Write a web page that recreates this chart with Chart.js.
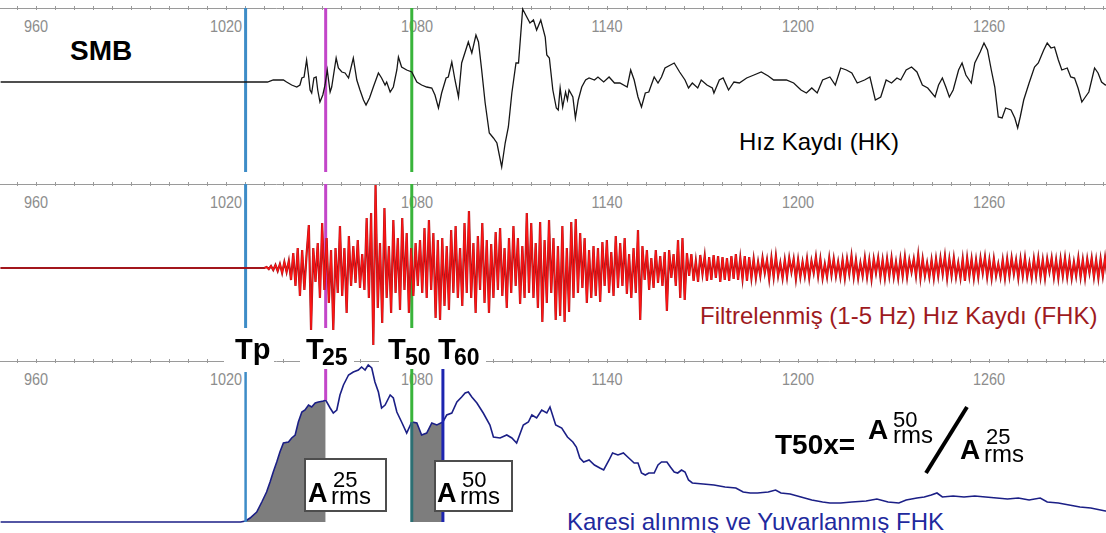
<!DOCTYPE html>
<html lang="tr">
<head>
<meta charset="utf-8">
<title>SMB - T50x</title>
<script src="https://cdn.jsdelivr.net/npm/chart.js@4.4.0/dist/chart.umd.min.js"></script>
<style>
  html, body { margin: 0; padding: 0; background: #fff; overflow: hidden; }
  #wrap { position: relative; width: 1106px; height: 533px; font-family: 'Liberation Sans', Arial, sans-serif; }
  #under, #over { position: absolute; left: 0; top: 0; width: 1106px; height: 533px; }
  #chart { position: absolute; left: 0; top: 0; }
  .txt { position: absolute; white-space: nowrap; line-height: 1; }
  .box { position: absolute; background: #fff; box-sizing: border-box; }
</style>
</head>
<body>
<div id="wrap">
  <div id="under"></div>
  <canvas id="chart" width="1106" height="533"></canvas>
  <div id="over"></div>
</div>
<script>
// time axis (s)
const xMin = 948.8;
const xMax = 1296.9;
const tickValues = [960, 1020, 1080, 1140, 1200, 1260];
const minorStep = 6;

// picks: Tp, T25, T50, T60
const markerNames = ['Tp', 'T25', 'T50', 'T60'];
const markerTimes = [1026.1, 1051.3, 1078.4, 1088.2];

// velocity record (HK)
const hkTime = [
  949, 1033.0, 1034.8, 1038.0, 1039.0, 1040.6, 1042.2, 1043.2, 1043.8, 1044.5,
  1045.3, 1045.9, 1046.4, 1046.9, 1047.6, 1048.3, 1048.8, 1049.5, 1050.4, 1051.1,
  1051.8, 1052.7, 1053.2, 1054.6, 1055.3, 1056.4, 1057.4, 1058.5, 1060.0, 1061.1,
  1062.1, 1063.2, 1064.0, 1065.1, 1066.3, 1067.9, 1068.9, 1070.0, 1070.5, 1071.6,
  1072.6, 1073.7, 1074.2, 1075.2, 1076.8, 1078.4, 1080.0, 1081.5, 1083.1, 1084.7,
  1085.7, 1086.8, 1087.8, 1089.2, 1089.9, 1091.0, 1092.0, 1093.1, 1094.1, 1095.2,
  1096.2, 1097.3, 1098.6, 1099.4, 1100.4, 1101.5, 1102.8, 1104.1, 1105.2, 1106.7,
  1107.8, 1108.8, 1109.9, 1111.2, 1112.0, 1113.3, 1114.6, 1115.6, 1116.7, 1117.7,
  1119.0, 1120.4, 1120.9, 1121.7, 1122.8, 1123.9, 1124.5, 1125.1, 1125.9, 1126.8,
  1127.4, 1127.9, 1129.1, 1129.9, 1130.8, 1131.9, 1133.1, 1134.2, 1135.9, 1137.0,
  1138.8, 1140.5, 1142.2, 1143.9, 1146.2, 1147.3, 1148.4, 1149.6, 1150.7, 1151.9,
  1153.0, 1154.7, 1155.9, 1157.0, 1158.1, 1161.0, 1162.7, 1164.4, 1165.5, 1166.7,
  1168.4, 1169.5, 1171.3, 1173.0, 1173.5, 1175.2, 1176.4, 1178.1, 1179.8, 1181.5,
  1183.8, 1186.1, 1188.4, 1190.6, 1192.3, 1194.1, 1196.3, 1198.6, 1200.9, 1202.6,
  1204.3, 1206.0, 1207.7, 1210.0, 1211.7, 1213.4, 1215.2, 1216.9, 1218.6, 1220.9,
  1222.6, 1224.3, 1226.0, 1227.7, 1229.4, 1231.1, 1232.3, 1234.0, 1235.7, 1237.4,
  1239.1, 1240.8, 1243.1, 1244.2, 1245.4, 1246.5, 1247.6, 1248.8, 1250.5, 1251.6,
  1252.8, 1254.5, 1255.6, 1257.3, 1258.5, 1259.6, 1260.8, 1261.9, 1263.0, 1264.2,
  1265.3, 1267.0, 1268.2, 1269.1, 1269.9, 1271.0, 1272.7, 1274.4, 1275.6, 1277.3,
  1278.4, 1279.6, 1280.7, 1281.9, 1283.0, 1284.7, 1285.8, 1287.0, 1288.1, 1289.3,
  1290.4, 1291.5, 1293.3, 1294.4, 1295.5, 1296.7, 1298
];
const hkValue = [
  0, 0, 2, 2, 0, -3, -5, -3, 4, 5,
  22, 7, -8, -11, 4, 5, -8, -20, -13, -3,
  12, -10, -5, 24, 14, 10, 9, 4, 24, 2,
  -8, -18, -23, -16, -5, 9, 4, -3, 0, -10,
  -5, 12, 25, 15, 12, 10, 0, -3, -5, -6,
  -13, -26, -11, 4, 5, 20, 2, -15, 19, 30,
  40, 29, 47, 40, 12, -21, -51, -56, -61, -85,
  -61, -45, -11, 19, 19, 73, 65, 59, 62, 52,
  62, 45, 27, 24, -8, -26, -28, -6, -25, -10,
  -18, -8, -15, -36, -18, -5, 2, 4, 2, 5,
  0, 5, -1, -1, -5, 12, 2, -15, -25, -11,
  -10, 5, -1, 5, 14, 19, 10, 2, -6, -1,
  -6, 2, -3, -6, -11, 2, 4, -8, 0, -1,
  4, 7, 10, 6, 2, 2, 2, -1, -8, -11,
  -6, -11, 2, 5, -3, 14, 12, 9, -1, 2,
  5, -18, -15, 2, -1, 4, 2, 12, 15, 10,
  -3, -6, -15, -3, 4, -5, -15, -8, 12, 19,
  7, -1, 19, 30, 39, 32, 12, -5, -35, -36,
  -26, -28, -36, -46, -35, -18, -1, 15, 19, 32,
  39, 34, 35, 22, 12, 14, 5, 4, -6, -20,
  -15, -10, 14, 9, 0, -3, -2
];

// filtered (1-5 Hz) velocity (FHK), sampled every fhkStep s from fhkStart
const recordStart = 949;
const fhkStart = 1032;
const fhkStep = 0.7;
const fhkValue = [
  0, 1, -1, 2, -2, 3, -3, 4, -5, 6, -4, 7, -12, 15, -18, 20, -28, 18, -22, 14,
  43, -62, 20, -14, 25, -30, 45, -22, 30, -35, 18, -62, 20, -25, 42, -28, 20, -45, 32, -18,
  22, -15, 28, -20, 14, -22, 50, -30, 55, -77, 83, -40, 25, -55, 60, -30, 22, -45, 48, -25,
  30, -42, 50, -22, 35, -45, 20, -28, 25, -18, 28, -25, 40, -30, 48, -22, 35, -50, 28, -52,
  30, -38, 22, -42, 38, -25, 42, -30, 20, -38, 45, -25, 57, -30, 25, -45, 32, -22, 45, -35,
  28, -45, 24, -30, 36, -22, 40, -28, 20, -40, 30, -25, 42, -18, 30, -36, 22, -30, 55, -25,
  45, -30, 25, -40, 46, -54, 28, -35, 48, -25, 30, -52, 22, -48, 42, -54, 20, -44, 46, -30,
  49, -25, 35, -20, 30, -35, 18, -30, 22, -28, 20, -34, 26, -18, 28, -25, 16, -28, 32, -20,
  25, -18, 30, -26, 14, -30, 20, -25, 38, -52, 22, -12, 18, -22, 10, -20, 18, -15, 12, -18,
  16, -43, 18, -10, 14, -18, 28, -30, 30, -32, 15, -8, 14, -13, 7, -14, 13, -6, 12, -13,
  11, -12, 13, -10, 12, -14, 11, -12, 10, -13, 12, -11, 14, -12, 10, -11, 12, -13, 11, -10,
  9, -10, 6, -8, 10, -5, 8, -11, 10, -9, 12, -8, 5, -10, 8, -9, 10, -4, 9, -11,
  8, -9, 6, -8, 9, -10, 7, -5, 11, -8, 9, -10, 4, -9, 10, -7, 9, -8, 6, -9,
  8, -10, 9, -6, 12, -9, 8, -10, 5, -8, 10, -9, 8, -11, 9, -5, 10, -9, 8, -10,
  9, -8, 10, -9, 6, -10, 9, -8, 11, -9, 8, -4, 9, -8, 13, -10, 9, -8, 5, -9,
  8, -10, 9, -8, 10, -6, 12, -10, 9, -8, 10, -9, 5, -10, 9, -13, 10, -8, 9, -10,
  8, -9, 10, -5, 11, -9, 8, -10, 9, -8, 4, -9, 8, -10, 9, -8, 10, -6, 8, -10,
  9, -8, 10, -9, 5, -10, 9, -8, 10, -9, 8, -10, 9, -4, 10, -9, 8, -10, 9, -8,
  10, -9, 8, -10, 6, -8, 10, -9, 8, -10, 9, -5, 10, -9, 8, -10, 9, -8, 10, -9
];

// squared and smoothed FHK (envelope)
const envTime = [
  949, 1024.5, 1026.1, 1027.5, 1029.6, 1031.2, 1032.7, 1033.8, 1034.8, 1035.9,
  1036.9, 1038.0, 1039.6, 1040.6, 1041.7, 1042.7, 1043.8, 1044.8, 1045.9, 1046.9,
  1048.0, 1049.0, 1050.6, 1051.3, 1052.7, 1053.7, 1054.8, 1055.8, 1056.9, 1058.5,
  1060.0, 1061.6, 1062.6, 1063.7, 1064.7, 1065.8, 1066.8, 1067.9, 1068.9, 1070.0,
  1071.6, 1072.6, 1073.7, 1075.2, 1076.8, 1078.4, 1080.0, 1081.5, 1083.1, 1084.7,
  1086.3, 1088.2, 1089.4, 1091.0, 1092.6, 1094.1, 1095.2, 1096.2, 1097.3, 1098.9,
  1100.9, 1103.0, 1104.1, 1106.2, 1108.3, 1109.9, 1111.4, 1113.5, 1115.1, 1116.2,
  1117.7, 1119.3, 1120.9, 1121.9, 1123.7, 1125.6, 1127.4, 1129.1, 1130.2, 1131.3,
  1132.5, 1134.2, 1135.9, 1137.6, 1138.8, 1140.5, 1141.6, 1143.3, 1145.0, 1146.7,
  1148.4, 1149.6, 1150.7, 1151.9, 1153.0, 1154.7, 1155.9, 1157.0, 1158.7, 1159.8,
  1161.0, 1162.1, 1163.3, 1164.4, 1165.5, 1166.7, 1170.1, 1173.5, 1177.0, 1180.4,
  1182.7, 1184.9, 1187.2, 1190.6, 1192.9, 1194.6, 1197.5, 1200.9, 1204.3, 1207.7,
  1210.0, 1213.4, 1216.9, 1221.4, 1224.8, 1228.3, 1231.7, 1234.0, 1237.4, 1239.7,
  1241.9, 1243.7, 1245.4, 1248.8, 1252.2, 1255.6, 1259.0, 1262.5, 1265.9, 1269.3,
  1272.7, 1276.2, 1278.4, 1281.9, 1285.3, 1288.7, 1292.1, 1296.7, 1298
];
const envValue = [
  0, 0, 1, 4, 10, 20, 30, 40, 50, 60,
  70, 79, 80, 84, 87, 100, 110, 112, 117, 115,
  119, 120, 121, 122, 114, 109, 112, 127, 137, 147,
  150, 152, 155, 152, 157, 154, 140, 130, 114, 117,
  127, 124, 110, 100, 89, 100, 99, 87, 89, 99,
  97, 100, 107, 109, 120, 125, 129, 130, 125, 119,
  109, 97, 85, 84, 87, 84, 79, 97, 100, 107,
  104, 112, 109, 115, 97, 94, 85, 80, 75, 64,
  60, 62, 57, 54, 52, 62, 69, 67, 69, 64,
  59, 59, 49, 47, 49, 49, 57, 60, 60, 55,
  50, 49, 52, 50, 42, 39, 38, 37, 35, 34,
  30, 29, 29, 30, 32, 29, 28, 25, 22, 20,
  19, 19, 20, 21, 23, 20, 19, 22, 24, 25,
  27, 29, 25, 26, 25, 26, 25, 24, 23, 24,
  22, 24, 20, 19, 17, 15, 14, 11, 11
];

// ---- layout of the three panels (pixels) ----
const W = 1106, H = 533;
const panelAxisY = [8, 184, 361];
const markerColors = ['#3d8cc7', '#c346c9', '#39b43b', '#1d25b0'];

const under = document.getElementById('under');
const over = document.getElementById('over');

function addText(layer, str, left, baseline, size, weight, color) {
  const el = document.createElement('div');
  el.className = 'txt';
  el.textContent = str;
  el.style.left = left + 'px';
  el.style.top = (baseline - 0.8465 * size) + 'px';
  el.style.fontSize = size + 'px';
  el.style.fontWeight = weight || 'normal';
  el.style.color = color || '#000';
  layer.appendChild(el);
  return el;
}

function addBox(left, top, w, h, border) {
  const el = document.createElement('div');
  el.className = 'box';
  el.style.left = left + 'px';
  el.style.top = top + 'px';
  el.style.width = w + 'px';
  el.style.height = h + 'px';
  if (border) el.style.border = border;
  over.appendChild(el);
  return el;
}

const pts = (ts, vs) => ts.map((t, i) => ({ x: t, y: vs[i] }));
const envPts = pts(envTime, envValue);
const between = (a, b) => envPts.filter(p => p.x >= a && p.x <= b);

const fhkPts = [{ x: recordStart, y: 0 }].concat(
  fhkValue.map((v, i) => ({ x: fhkStart + i * fhkStep, y: v }))
);
const isFlat = c => c.p0.parsed.y === 0 && c.p1.parsed.y === 0;

function vline(ctx, x, y0, y1, color, w) {
  ctx.strokeStyle = color;
  ctx.lineWidth = w;
  ctx.beginPath();
  ctx.moveTo(x, y0);
  ctx.lineTo(x, y1);
  ctx.stroke();
}

const panelPlugin = {
  id: 'panelAxes',
  beforeDatasetsDraw(chart) {
    const ctx = chart.ctx;
    const xs = chart.scales.x;
    ctx.save();
    ctx.strokeStyle = '#9a9a9a';
    ctx.lineWidth = 1;
    panelAxisY.forEach(y => {
      ctx.beginPath();
      ctx.moveTo(0, y + 0.5);
      ctx.lineTo(W, y + 0.5);
      ctx.stroke();
      const k0 = Math.ceil(xMin / minorStep);
      for (let k = k0; k * minorStep <= xMax; k++) {
        const px = Math.round(xs.getPixelForValue(k * minorStep)) + 0.5;
        ctx.beginPath();
        ctx.moveTo(px, y - 2);
        ctx.lineTo(px, y + 2);
        ctx.stroke();
      }
    });
    // marker lines in the upper two panels
    for (let i = 0; i < 3; i++) {
      const px = xs.getPixelForValue(markerTimes[i]);
      vline(ctx, px, panelAxisY[0], 172, markerColors[i], 3);
      vline(ctx, px, panelAxisY[1], 328, markerColors[i], 3);
    }
    ctx.restore();
  },
  afterDatasetsDraw(chart) {
    const ctx = chart.ctx;
    const xs = chart.scales.x;
    const ye = chart.scales.yEnv;
    const base = ye.getPixelForValue(0);
    const envAt = t => ye.getPixelForValue(envValue[envTime.indexOf(t)]);
    ctx.save();
    const xp = markerTimes.map(t => xs.getPixelForValue(t));
    vline(ctx, xp[0], 372, base, markerColors[0], 2.5);
    vline(ctx, xp[1], 368, envAt(markerTimes[1]), markerColors[1], 3);
    vline(ctx, xp[2], 368, envAt(markerTimes[2]), markerColors[2], 3);
    vline(ctx, xp[2], envAt(markerTimes[2]), base, '#2c6f73', 3);
    vline(ctx, xp[3], 367, base, markerColors[3], 3);
    // fraction slash of the T50x formula
    ctx.strokeStyle = '#000';
    ctx.lineWidth = 4;
    ctx.beginPath();
    ctx.moveTo(967, 407);
    ctx.lineTo(926, 473);
    ctx.stroke();
    ctx.restore();
  }
};

const chart = new Chart(document.getElementById('chart'), {
  type: 'line',
  data: {
    datasets: [
      {
        data: pts(hkTime, hkValue), yAxisID: 'yHK',
        borderColor: '#161616', borderWidth: 1.3, pointRadius: 0, tension: 0, order: 1
      },
      {
        // dark rim of the filtered trace
        data: fhkPts, yAxisID: 'yFHK',
        borderColor: '#a3161c', borderWidth: 2.2, pointRadius: 0, tension: 0, order: 2
      },
      {
        data: fhkPts, yAxisID: 'yFHK',
        borderColor: '#ff1414', borderWidth: 1.2, pointRadius: 0, tension: 0, order: 1,
        segment: {
          borderColor: c => isFlat(c) ? '#a3161c' : undefined,
          borderWidth: c => isFlat(c) ? 2 : undefined
        }
      },
      {
        data: between(markerTimes[0], markerTimes[1]), yAxisID: 'yEnv',
        borderWidth: 0, pointRadius: 0, fill: 'origin', backgroundColor: '#7d7d7d', order: 3
      },
      {
        data: between(markerTimes[2], markerTimes[3]), yAxisID: 'yEnv',
        borderWidth: 0, pointRadius: 0, fill: 'origin', backgroundColor: '#7d7d7d', order: 3
      },
      {
        data: envPts, yAxisID: 'yEnv',
        borderColor: '#1b1f86', borderWidth: 1.6, pointRadius: 0, tension: 0, order: 1
      }
    ]
  },
  options: {
    responsive: false,
    animation: false,
    events: [],
    layout: { padding: 0 },
    plugins: { legend: { display: false }, tooltip: { enabled: false } },
    scales: {
      x: { type: 'linear', min: xMin, max: xMax, display: false },
      yHK: { type: 'linear', min: -451, max: 82, display: false },
      yFHK: { type: 'linear', min: -265, max: 268, display: false },
      yEnv: { type: 'linear', min: -11, max: 522, display: false }
    }
  },
  plugins: [panelPlugin]
});

// tick labels under each panel's time axis
const xs = chart.scales.x;
panelAxisY.forEach(y => {
  tickValues.forEach(v => {
    const el = addText(under, String(v), xs.getPixelForValue(v), y + 24, 17, 'normal', '#8d8d8d');
    el.style.transform = 'translateX(-50%) scaleX(0.85)';
  });
});

// panel captions
addText(under, 'SMB', 70, 61, 28, 'bold', '#000');
addText(under, 'Hız Kaydı (HK)', 739, 150, 24, 'normal', '#000');
addText(under, 'Filtrelenmiş (1-5 Hz) Hız Kaydı (FHK)', 700, 324, 24, 'normal', '#9e1a1e');
addText(under, 'Karesi alınmış ve Yuvarlanmış FHK', 567, 530, 24, 'normal', '#1f2a9e');

// pick labels on white patches over the lower time axis
addBox(224, 333, 50, 36);
addBox(300, 333, 54, 36);
addBox(379, 333, 107, 36);
addText(over, 'Tp', 235, 360, 29, 'bold');
addText(over, 'T', 306, 360, 29, 'bold');
addText(over, '25', 322, 365, 23, 'bold');
addText(over, 'T', 388, 360, 29, 'bold');
addText(over, '50', 405, 365, 23, 'bold');
addText(over, 'T', 438, 360, 29, 'bold');
addText(over, '60', 454, 365, 23, 'bold');

// A_rms boxes
addBox(304, 458, 83, 54, '2px solid #4d4d4d');
addText(over, 'A', 308, 503, 27, 'bold');
addText(over, '25', 333, 488, 22, 'normal');
addText(over, 'rms', 331, 504, 24, 'normal');
addBox(434, 460, 79, 52, '2px solid #4d4d4d');
addText(over, 'A', 437, 503, 27, 'bold');
addText(over, '50', 462, 488, 22, 'normal');
addText(over, 'rms', 460, 504, 24, 'normal');

// T50x formula
addText(over, 'T50x=', 775, 455, 28, 'bold');
addText(over, 'A', 868, 440, 28, 'bold');
addText(over, '50', 893, 428, 22, 'normal');
addText(over, 'rms', 893, 443, 24, 'normal');
addText(over, 'A', 960, 460, 28, 'bold');
addText(over, '25', 986, 445, 22, 'normal');
addText(over, 'rms', 984, 462, 24, 'normal');
</script>
</body>
</html>
